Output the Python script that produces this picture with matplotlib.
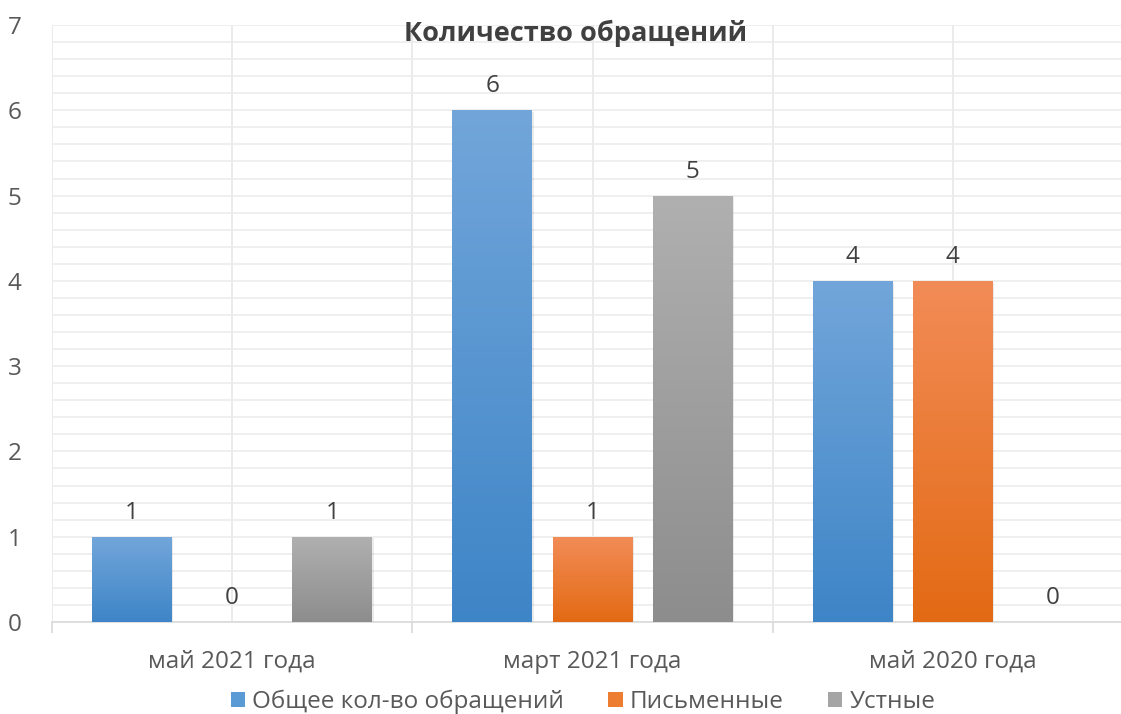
import numpy as np
import matplotlib.pyplot as plt
from matplotlib.ticker import MultipleLocator, FixedLocator

plt.rcParams['font.family'] = ['Open Sans', 'DejaVu Sans']

# data
categories = ['май 2021 года', 'март 2021 года', 'май 2020 года']
series_names = ['Общее кол-во обращений', 'Письменные', 'Устные']
total = [1, 6, 4]
written = [0, 1, 4]
oral = [1, 5, 0]

values = [total, written, oral]
# gradient (top colour, bottom colour) per series
grad = [('#72A6DA', '#3E85C7'), ('#F28C57', '#E36A14'), ('#B0B0B0', '#8D8D8D')]
base = ['#5B9BD5', '#ED7D31', '#A5A5A5']
txt = '#595959'

fig = plt.figure(figsize=(11.21, 7.14), dpi=100)
ax = fig.add_axes([52 / 1121, 1 - 622 / 714, 1081 / 1121, 597 / 714])

x = np.arange(len(categories))
width = 0.222
step = 0.278

handles = []
for i, (vals, name) in enumerate(zip(values, series_names)):
    pos = x + (i - 1) * step
    bars = ax.bar(pos, vals, width, color=base[i], label=name, zorder=3)
    handles.append(bars)
    c_top = np.array(plt.matplotlib.colors.to_rgb(grad[i][0]))
    c_bot = np.array(plt.matplotlib.colors.to_rgb(grad[i][1]))
    t = np.linspace(0, 1, 256)[:, None]
    img = (c_top * (1 - t) + c_bot * t)[:, None, :]
    for b, v in zip(bars, vals):
        if v > 0:
            # soft shadow
            ax.bar(b.get_x() + b.get_width() / 2 + 0.004, v, width, bottom=-0.02,
                   color='#000000', alpha=0.08, zorder=2.5, linewidth=0)
            im = ax.imshow(img, extent=[b.get_x(), b.get_x() + b.get_width(), 0, v],
                           aspect='auto', zorder=4, interpolation='bilinear')
            im.set_clip_path(b)
        ax.text(b.get_x() + b.get_width() / 2, v + 0.14, str(v), ha='center',
                va='bottom', fontsize=17.5, color='#404040', zorder=5)

ax.set_xlim(-0.5, 2.5)
ax.set_ylim(0, 7)

ax.yaxis.set_major_locator(MultipleLocator(1))
ax.yaxis.set_minor_locator(MultipleLocator(0.2))
ax.grid(axis='y', which='both', color='#ECECEC', linewidth=1.2, zorder=0)

ax.set_xticks(x)
ax.set_xticklabels(categories)
ax.xaxis.set_minor_locator(FixedLocator([-0.5, 0.5, 1.5, 2.5]))
for xv in [-0.5, 0, 0.5, 1, 1.5, 2, 2.5]:
    ax.axvline(xv, color='#E8E8E8', linewidth=1.2, zorder=0)

ax.tick_params(axis='x', which='major', length=0, pad=20, labelsize=17.5, labelcolor=txt)
ax.tick_params(axis='x', which='minor', length=8, color='#D9D9D9', width=1.2)
ax.tick_params(axis='y', which='both', length=0, pad=22, labelsize=17.5, labelcolor=txt)

for s in ['top', 'right', 'left']:
    ax.spines[s].set_visible(False)
ax.spines['bottom'].set_color('#D9D9D9')
ax.spines['bottom'].set_linewidth(1.2)

fig.text(0.513, 1 - 33 / 714, 'Количество обращений', ha='center', va='center',
         fontsize=19.5, fontweight='bold', color='#404040')

fig.legend(handles=handles, labels=series_names, loc='center', ncol=3,
           bbox_to_anchor=(0.52, 1 - 702 / 714), frameon=False, fontsize=17.5,
           labelcolor=txt, handlelength=0.6, handleheight=0.6, handletextpad=0.3,
           columnspacing=1.8)

fig.savefig('out.png', dpi=100)
